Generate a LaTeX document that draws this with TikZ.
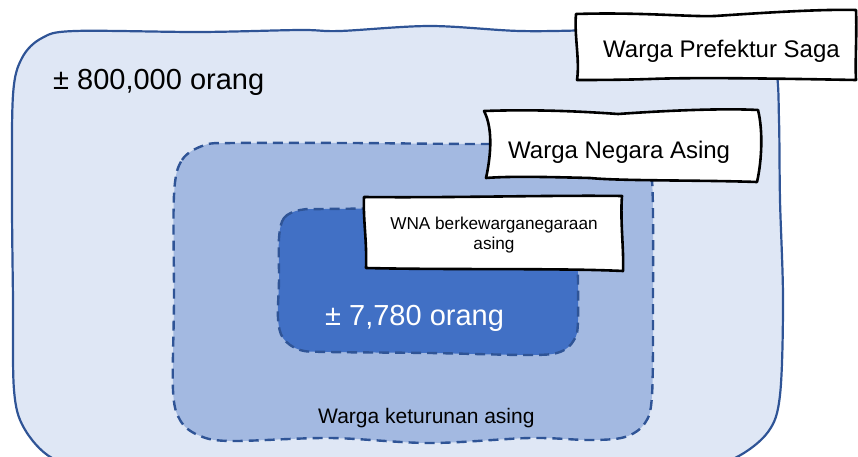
\documentclass[tikz,border=0pt]{standalone}
\usepackage{fontspec}
\setmainfont{Liberation Sans}
\definecolor{outerfill}{HTML}{DFE7F5}
\definecolor{midfill}{HTML}{A3B9E1}
\definecolor{innerfill}{HTML}{4170C5}
\definecolor{edgeblue}{HTML}{2F5496}
\tikzset{
  outerbox/.style={fill=outerfill, draw=edgeblue, line width=2.2pt, line join=round},
  midbox/.style={fill=midfill, draw=edgeblue, line width=2.4pt, dash pattern=on 10pt off 6pt, line join=round},
  innerbox/.style={fill=innerfill, draw=edgeblue, line width=2.4pt, dash pattern=on 10pt off 6pt, line join=round},
  tagbox/.style={fill=white, draw=black, line width=2.6pt, line join=round},
  txt/.style={inner sep=0pt, anchor=base west, text=black},
}
\begin{document}
\begin{tikzpicture}[x=1pt, y=-1pt]
\useasboundingbox (0,0) rectangle (858,457);

% population of the prefecture
\draw[outerbox] plot[smooth cycle, tension=0.55] coordinates {
  (13,95) (22,58) (42,38) (75,31) (200,32) (300,30) (340,31) (430,26)
  (520,31) (600,30) (700,28) (760,36) (776,70) (779,120) (780,200)
  (783,300) (780,395) (768,432) (735,458) (690,470) (100,470)
  (52,458) (24,428) (14,390) (13,300) (12,200)};

% foreign-origin residents
\draw[midbox] plot[smooth cycle, tension=0.55] coordinates {
  (174,195) (182,160) (205,145) (235,143) (350,143) (483,144)
  (615,143) (642,150) (652,180) (653,300) (652,395) (645,423)
  (625,437) (590,440) (530,438) (430,443) (330,438) (230,441)
  (198,435) (180,420) (173,390) (174,300)};

% foreign nationals
\draw[innerbox] plot[smooth cycle, tension=0.55] coordinates {
  (279,238) (284,218) (300,210) (325,209) (450,208) (555,209)
  (572,218) (577,245) (578,320) (574,340) (560,352) (530,355)
  (430,353) (330,352) (300,350) (283,338) (278,318) (279,280)};

\node[txt, font=\fontsize{29}{34}\selectfont] (total) at (53,90) {± 800,000 orang};
\node[txt, font=\fontsize{29}{34}\selectfont, text=white] (wna) at (325,325) {± 7,780 orang};
\node[txt, font=\fontsize{21}{25}\selectfont] (keturunan) at (318,423) {Warga keturunan asing};

% hand-drawn tags
\draw[tagbox] (576,14) .. controls (640,12) and (690,17) .. (715,16)
  .. controls (760,13) and (820,9) .. (856,10)
  .. controls (857,35) and (855,60) .. (856,80)
  .. controls (800,79) and (700,77) .. (650,79)
  .. controls (620,80) and (590,80) .. (577,80)
  .. controls (580,60) and (574,35) .. cycle;
\node[txt, font=\fontsize{24}{28}\selectfont] (saga) at (603,58) {Warga Prefektur Saga};

\draw[tagbox] (484,111) .. controls (540,109) and (590,112) .. (618,114)
  .. controls (660,111) and (720,108) .. (758,110)
  .. controls (763,130) and (762,160) .. (757,182)
  .. controls (700,180) and (620,181) .. (590,178)
  .. controls (550,177) and (510,176) .. (486,178)
  .. controls (490,160) and (494,130) .. cycle;
\node[txt, font=\fontsize{24}{28}\selectfont] (asing) at (508,158) {Warga Negara Asing};

\draw[tagbox] (364,197) .. controls (450,198) and (550,195) .. (622,196)
  .. controls (620,220) and (624,250) .. (623,271)
  .. controls (560,268) and (450,270) .. (366,268)
  .. controls (367,240) and (363,220) .. cycle;
\node[inner sep=0pt, align=center, font=\fontsize{17.2}{20}\selectfont] (kwn) at (494,235.5)
  {WNA berkewarganegaraan\\asing};
\end{tikzpicture}
\end{document}
